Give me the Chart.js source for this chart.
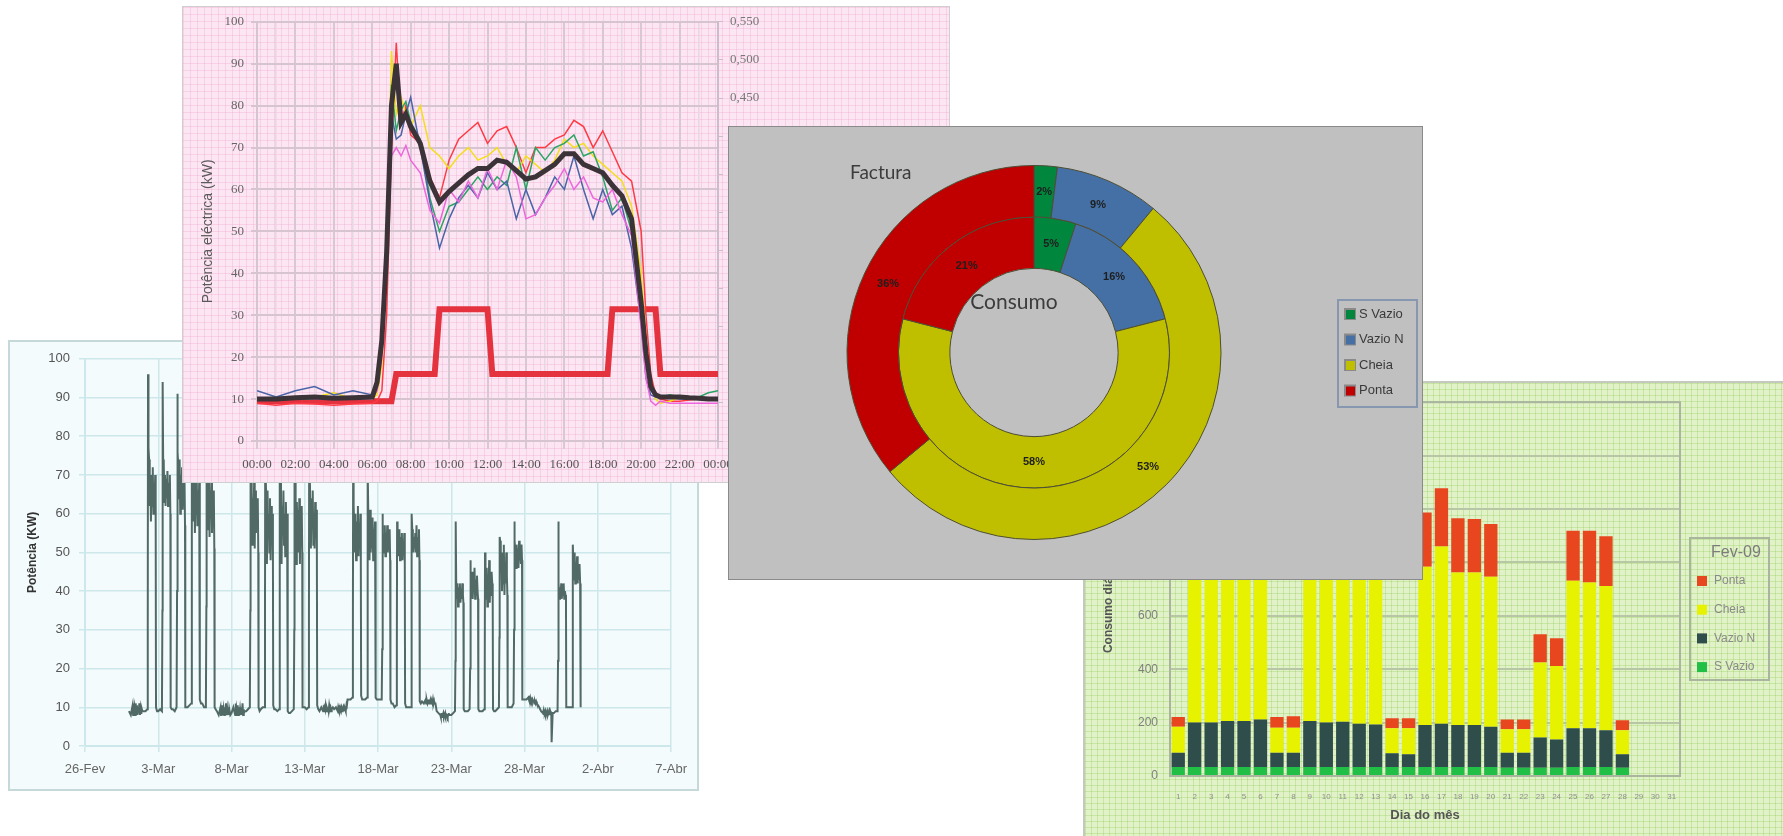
<!DOCTYPE html>
<html>
<head>
<meta charset="utf-8">
<title>Consumos eléctricos</title>
<script src="https://cdn.jsdelivr.net/npm/chart.js@4.4.1/dist/chart.umd.min.js"></script>
<style>
  html, body { margin: 0; padding: 0; background: #fff; }
  body { position: relative; width: 1783px; height: 836px; overflow: hidden; }
  .panel { position: absolute; box-sizing: border-box; }
  .panel canvas { display: block; }
  #monthPanel { left: 8px; top: 340px; width: 691px; height: 451px; border: 2px solid #c6d9da; background: #f4fbfc; z-index: 1; }
  #dayPanel { left: 182px; top: 6px; width: 768px; height: 477px; border: 1px solid #cfcfcf; z-index: 2;
    background-color: #fde6f3;
    background-image: linear-gradient(to right, rgba(236,168,208,.35) 1px, transparent 1px),
                      linear-gradient(to bottom, rgba(236,168,208,.35) 1px, transparent 1px);
    background-size: 7px 7px; }
  #billPanel { left: 1083px; top: 381px; width: 702px; height: 457px; border: 2px solid #c4c8c0; z-index: 3;
    background-color: #e2f2c8;
    background-image: linear-gradient(to right, rgba(150,205,95,.35) 1px, transparent 1px),
                      linear-gradient(to bottom, rgba(150,205,95,.35) 1px, transparent 1px);
    background-size: 6px 6px; }
  #sharePanel { left: 728px; top: 126px; width: 695px; height: 454px; border: 1px solid #8a8a8a; background: #c0c0c0; z-index: 4; }
</style>
</head>
<body>
<div class="panel" id="monthPanel"><canvas id="monthChart" width="687" height="447"></canvas></div>
<div class="panel" id="dayPanel"><canvas id="dayChart" width="766" height="475"></canvas></div>
<div class="panel" id="billPanel"><canvas id="billChart" width="698" height="453"></canvas></div>
<div class="panel" id="sharePanel"><canvas id="shareChart" width="693" height="452"></canvas></div>

<script>
// ---- March load (kW), one row per day, sampled at sampleHours ----
const dateTicks = ['26-Fev', '3-Mar', '8-Mar', '13-Mar', '18-Mar', '23-Mar', '28-Mar', '2-Abr', '7-Abr'];
const sampleHours = [0, 3, 6, 6.8, 7.2, 8, 9, 10, 11, 12, 13, 14, 15, 16, 17, 18, 19, 19.8, 20.3, 22];
const firstDay = 3; // 1-Mar, counted in days from 26-Fev
const marchKw = [
  [9, 8, 10.5, 8, 11, 8.5, 10, 8, 11, 8.5, 10.5, 8, 10, 8.5, 11, 8, 10, 8.5, 10, 9],
  [9, 9, 9.5, 30, 96, 77, 74, 62, 70, 58, 68, 62, 72, 60, 66, 63, 70, 58, 10, 9],
  [9, 9.5, 9, 35, 94, 74, 73, 63, 70, 62, 69, 64, 71, 62, 68, 65, 70, 60, 10, 9.5],
  [9.5, 9, 10, 40, 91, 76, 72, 64, 74, 60, 70, 62, 72, 61, 67, 63, 69, 57, 10, 10],
  [10, 10.5, 11, 38, 90, 80, 70, 58, 72, 55, 68, 60, 70, 57, 66, 60, 68, 53, 12, 11],
  [11, 10, 10, 36, 88, 78, 72, 56, 70, 54, 66, 60, 69, 55, 64, 58, 66, 51, 10, 9.5],
  [9, 8, 10, 8, 9.5, 8, 10.5, 8, 9.5, 8, 10, 8, 11, 8, 9.5, 8, 10, 8, 9.5, 8],
  [8.5, 10, 8, 11, 8, 9.5, 8, 10.5, 8, 10, 8, 9.5, 8, 10, 8, 11, 8, 9.5, 8.5, 9],
  [9, 9.5, 10, 35, 86, 72, 66, 52, 64, 58, 68, 51, 66, 55, 62, 57, 64, 50, 10, 9],
  [9.5, 10, 10, 30, 84, 70, 62, 47, 66, 55, 60, 50, 64, 48, 62, 56, 60, 49, 10.5, 9.5],
  [9.5, 9, 9.5, 32, 85, 70, 64, 47, 62, 57, 66, 52, 60, 49, 63, 55, 60, 48, 9, 8.5],
  [8.5, 9, 9.5, 30, 82, 68, 60, 47, 63, 55, 61, 50, 64, 47, 59, 55, 62, 50, 10, 10],
  [10, 9.5, 10, 33, 84, 72, 62, 51, 64, 59, 66, 52, 60, 51, 63, 58, 61, 50, 10.5, 9.5],
  [9, 10, 9, 10.5, 9, 10, 9.5, 10.5, 9, 10, 9.5, 10, 9, 10.5, 9.5, 10, 9, 10, 9.5, 10],
  [9.5, 10, 9, 10, 9.5, 10.5, 9, 10, 9.5, 10, 9, 9.5, 10, 9, 10, 9.5, 9, 10, 9.5, 12],
  [12, 12, 12.5, 30, 75, 62, 57, 50, 60, 48, 58, 52, 62, 49, 57, 53, 60, 47, 13, 12],
  [12, 12, 12.5, 28, 72, 60, 56, 48, 61, 50, 57, 51, 59, 48, 56, 52, 58, 46, 12.5, 12],
  [12, 12, 12, 25, 60, 55, 52, 50, 57, 49, 55, 51, 57, 50, 54, 51, 56, 48, 12, 11],
  [11, 10, 10.5, 26, 58, 54, 51, 49, 56, 48, 54, 50, 55, 48, 53, 50, 55, 47, 11, 10],
  [10, 10, 10, 27, 60, 56, 53, 50, 54, 51, 55, 50, 57, 49, 54, 52, 56, 48, 11.5, 11],
  [11.5, 11, 12, 11, 11.5, 12, 11, 11.5, 12, 11, 11.5, 12, 11, 11.5, 11, 12, 11, 11.5, 11, 11],
  [9, 8.5, 8, 7.5, 8, 8.5, 7.5, 8, 8.5, 7.5, 8, 8.5, 7.5, 8, 8, 7.5, 8, 8.5, 8, 8],
  [8, 8.5, 9, 22, 58, 42, 38, 42, 36, 41, 38, 42, 37, 40, 38, 42, 39, 37, 9.5, 9],
  [9, 9, 9.5, 20, 48, 42, 39, 45, 38, 42, 40, 46, 38, 43, 39, 44, 40, 38, 9.5, 9],
  [9, 9, 9.5, 22, 50, 44, 38, 46, 36, 44, 40, 48, 37, 44, 39, 45, 42, 38, 9.5, 9],
  [9, 9.5, 10, 28, 54, 53, 45, 50, 40, 48, 42, 52, 39, 47, 42, 50, 44, 39, 10, 10],
  [10, 10, 11, 30, 58, 53, 50, 46, 52, 47, 51, 46, 53, 48, 50, 47, 52, 48, 12, 12],
  [12, 12, 12.5, 12, 13, 12, 12.5, 11.5, 12, 11.5, 12, 11.5, 12, 11, 11.5, 11, 11.5, 11, 11, 10.5],
  [10, 9, 8.5, 9, 8, 9, 8.5, 9, 8, 8.5, 9, 8, 8.5, 9, 8, 9, 8.5, 8, 1, 8.5],
  [8.5, 9, 9, 22, 58, 42, 38, 41, 39, 42, 38, 41, 39, 42, 38, 40, 39, 38, 10, 10],
  [10, 10, 10, 24, 52, 47, 43, 50, 42, 47, 44, 49, 42, 46, 43, 47, 42, 10]
];

// ---- typical day (kW) and tariff (EUR/kWh) ----
const hourGrid = [0, 1, 2, 3, 4, 5, 6, 6.25, 6.5, 6.75, 7, 7.25, 7.5, 7.75, 8, 8.5, 9, 9.5, 10, 10.5, 11, 11.5, 12, 12.5,
  13, 13.5, 14, 14.5, 15, 15.5, 16, 16.5, 17, 17.5, 18, 18.5, 19, 19.5, 20, 20.25, 20.5, 20.75, 21, 21.5, 22, 22.5, 23, 23.5, 24];
const avgKw = [10, 10, 10.3, 10.5, 10.2, 10.3, 10.5, 14, 24, 45, 80, 90, 76, 78, 75,
  71, 62, 57, 59.5, 61.5, 63.5, 65, 65, 67, 66.5, 64.5, 62.5, 63, 64.5, 66, 68.5, 68.5, 66, 65, 64, 61, 58.5, 53, 33,
  21, 13, 11, 10.5, 10.5, 10.5, 10.3, 10.2, 10, 10];
const redKw = [9, 8.5, 9, 8.8, 8.5, 8.8, 9, 9.5, 12, 30, 70, 95, 76, 80, 73,
  71, 63, 58, 67, 72, 74, 76, 71, 74, 75, 70, 64, 70, 70, 72, 73, 76.5, 75, 70, 74, 69, 64, 62, 50,
  30, 16, 11, 10, 9.5, 9.5, 9.8, 10, 10, 10];
const yellowKw = [10, 10, 10, 10.5, 11.5, 10, 10, 11, 18, 45, 93, 78, 82, 78, 75,
  80, 70, 68, 65, 68, 70, 67, 68, 70, 66, 64, 68, 66, 64, 67, 72, 70, 71, 68, 66, 64, 62, 56, 40,
  25, 13, 10, 9, 9.5, 10.5, 10.5, 10, 10.3, 10];
const greenKw = [10, 10.5, 10, 10, 10, 10.5, 10.5, 13, 25, 50, 85, 74, 79, 81, 76,
  72, 58, 50, 56, 57, 60, 63, 60, 63, 61, 70, 60, 70, 67, 70, 71, 73, 68, 69, 63, 55, 58, 50, 35,
  24, 12, 11, 10.5, 11, 10.5, 10.5, 10.5, 11.5, 12];
const blueKw = [12, 10.5, 12, 13, 11, 12, 11, 13, 22, 40, 78, 72, 73, 78, 82,
  70, 57, 46, 53, 58, 61, 58, 64, 60, 62, 53, 60, 54, 58, 63, 60, 68, 60, 53, 60, 54, 56, 46, 28,
  15, 11, 10.5, 10.5, 10.5, 10, 10, 10, 10, 10];
const magentaKw = [10, 10, 10.5, 10, 10, 10, 10, 12, 20, 42, 68, 70, 68, 70.5, 67,
  64, 55, 52, 60, 57, 62, 58, 65, 60, 67, 63, 53, 54, 58, 61, 65, 60, 63, 58, 57, 60, 54, 49, 27,
  15, 9.5, 8.5, 9.5, 9, 9, 9, 9, 9, 9];
const tariffHours = [0, 7, 7.25, 9.25, 9.5, 12, 12.25, 18.25, 18.5, 20.75, 21, 24];
const tariffEur = [0.052, 0.052, 0.088, 0.088, 0.173, 0.173, 0.088, 0.088, 0.173, 0.173, 0.088, 0.088];

// ---- share per tariff period (%) ----
const tariffPeriods = ['S Vazio', 'Vazio N', 'Cheia', 'Ponta'];
const periodColors = ['#00873d', '#4470a6', '#bfbf00', '#c00000'];
const billShare = [2, 9, 53, 36];
const useShare = [5, 16, 58, 21];

// ---- February daily consumption (kWh) ----
const monthLabel = 'Fev-09';
const dayLabels = ['1', '2', '3', '4', '5', '6', '7', '8', '9', '10', '11', '12', '13', '14', '15', '16',
  '17', '18', '19', '20', '21', '22', '23', '24', '25', '26', '27', '28', '29', '30', '31'];
const sVazioKwh = [34, 34, 34, 34, 34, 34, 34, 34, 34, 34, 34, 34, 34, 34, 34, 34, 34, 34, 34, 34, 31, 31, 31, 31, 34, 34, 34, 31, null, null, null];
const vazioNKwh = [53, 166, 166, 172, 172, 178, 53, 53, 172, 166, 169, 162, 159, 51, 47, 157, 162, 157, 157, 150, 56, 56, 113, 106, 145, 145, 137, 50, null, null, null];
const cheiaKwh = [97, 560, 560, 550, 560, 550, 94, 94, 560, 570, 560, 570, 565, 94, 98, 593, 664, 571, 571, 562, 88, 88, 281, 275, 552, 546, 541, 90, null, null, null];
const pontaKwh = [37, 200, 200, 200, 195, 200, 40, 43, 200, 195, 200, 200, 205, 37, 37, 203, 218, 203, 201, 198, 37, 37, 106, 104, 188, 194, 186, 38, null, null, null];
const barColors = ['#22bf46', '#2f4d4a', '#e6f200', '#e8461e'];

Chart.defaults.font.family = '"Liberation Sans", Arial, sans-serif';

// March load curve
const marchPoints = [];
marchKw.forEach((day, i) => day.forEach((kw, j) => {
  marchPoints.push({ x: firstDay + i + sampleHours[j] / 24, y: kw });
}));

new Chart(document.getElementById('monthChart'), {
  type: 'line',
  data: { datasets: [{ data: marchPoints, borderColor: '#526a66', borderWidth: 2, pointRadius: 0, tension: 0 }] },
  options: {
    responsive: false, animation: false,
    layout: { padding: { left: 0, right: 25, top: 11, bottom: 0 } },
    plugins: { legend: { display: false }, tooltip: { enabled: false } },
    scales: {
      x: {
        type: 'linear', min: 0, max: 40,
        ticks: { stepSize: 5, autoSkip: false, maxRotation: 0, color: '#666', font: { size: 13 }, padding: 10,
                 callback: v => dateTicks[v / 5] ?? '' },
        grid: { color: '#cde8ea', lineWidth: 1.5, tickLength: 6 },
        border: { color: '#cde8ea' },
        afterFit: s => { s.height = 43; }
      },
      y: {
        min: 0, max: 100,
        ticks: { stepSize: 10, color: '#555', font: { size: 13 }, padding: 9 },
        grid: { color: '#cde8ea', lineWidth: 1.5, tickLength: 6 },
        border: { color: '#cde8ea' },
        title: { display: true, text: 'Potência (KW)', color: '#333', font: { size: 12, weight: 'bold' }, padding: { top: 15, bottom: 0 } },
        afterFit: s => { s.width = 75; }
      }
    }
  }
});

// typical day with tariff steps
const daySeries = (values, color, width) => ({
  data: hourGrid.map((h, i) => ({ x: h, y: values[i] })),
  borderColor: color, borderWidth: width, pointRadius: 0, tension: 0, yAxisID: 'y'
});
const serifTicks = { family: '"Liberation Serif", "Times New Roman", serif', size: 13 };

new Chart(document.getElementById('dayChart'), {
  type: 'line',
  data: {
    datasets: [
      daySeries(avgKw, '#3b3338', 5),
      daySeries(magentaKw, '#ee66dd', 1.5),
      daySeries(blueKw, '#4a64a8', 1.5),
      daySeries(greenKw, '#2aa464', 1.5),
      daySeries(yellowKw, '#f2de1a', 1.5),
      daySeries(redKw, '#ff3a44', 1.5),
      { data: tariffHours.map((h, i) => ({ x: h, y: tariffEur[i] })), borderColor: '#e4323e', borderWidth: 6,
        pointRadius: 0, tension: 0, yAxisID: 'y1' }
    ]
  },
  options: {
    responsive: false, animation: false,
    layout: { padding: { left: 0, right: 176, top: 13.5, bottom: 0 } },
    plugins: { legend: { display: false }, tooltip: { enabled: false } },
    scales: {
      x: {
        type: 'linear', min: 0, max: 24,
        ticks: { stepSize: 1, autoSkip: false, maxRotation: 0, color: '#555', font: serifTicks, padding: 8,
                 callback: v => v % 2 ? '' : String(v % 24).padStart(2, '0') + ':00' },
        grid: { color: c => (c.tick && c.tick.value % 2 === 0) ? '#d9c7d5' : '#e8d6e3',
                lineWidth: c => (c.tick && c.tick.value % 2 === 0) ? 2 : 1.5, tickLength: 8 },
        border: { color: '#d6c4d1', width: 2 },
        afterFit: s => { s.height = 41; }
      },
      y: {
        min: 0, max: 100,
        ticks: { stepSize: 10, color: '#666', font: serifTicks, padding: 7 },
        grid: { color: '#d6c4d1', lineWidth: 2, tickLength: 6 },
        border: { color: '#d6c4d1', width: 2 },
        title: { display: true, text: 'Potência eléctrica (kW)', color: '#5a5a5a', font: { size: 14 }, padding: { top: 17, bottom: 0 } },
        afterFit: s => { s.width = 74; }
      },
      y1: {
        position: 'right', min: 0, max: 0.55,
        ticks: { stepSize: 0.05, color: '#777', font: serifTicks, padding: 7,
                 callback: v => v.toFixed(3).replace('.', ',') },
        grid: { drawOnChartArea: false, color: '#cdbcc9', tickLength: 5 },
        border: { color: '#cdbcc9', width: 2 },
        afterFit: s => { s.width = 55; }
      }
    }
  }
});

// February stacked bars
const plotFrame = {
  id: 'plotFrame',
  beforeDatasetsDraw(chart) {
    const { ctx, chartArea: a } = chart;
    ctx.save();
    ctx.strokeStyle = '#a9b69d';
    ctx.lineWidth = 2;
    ctx.strokeRect(a.left, a.top, a.right - a.left, a.bottom - a.top);
    ctx.restore();
  }
};
const monthLegend = {
  id: 'monthLegend',
  afterDraw(chart) {
    const ctx = chart.ctx;
    ctx.save();
    ctx.strokeStyle = '#a9b69d';
    ctx.lineWidth = 2;
    ctx.strokeRect(605, 155, 79, 142);
    ctx.textBaseline = 'middle';
    ctx.textAlign = 'left';
    ctx.fillStyle = '#7c7c7c';
    ctx.font = '16px "Liberation Sans"';
    ctx.fillText(monthLabel, 626, 170);
    ctx.font = '12px "Liberation Sans"';
    const sets = chart.data.datasets.slice().reverse();
    sets.forEach((ds, k) => {
      const y = 198 + k * 28.7;
      ctx.fillStyle = ds.backgroundColor;
      ctx.fillRect(612, y - 5, 10, 10);
      ctx.fillStyle = '#8a8a8a';
      ctx.fillText(ds.label, 629, y);
    });
    ctx.restore();
  }
};

new Chart(document.getElementById('billChart'), {
  type: 'bar',
  data: {
    labels: dayLabels,
    datasets: [
      { label: 'S Vazio', data: sVazioKwh, backgroundColor: barColors[0] },
      { label: 'Vazio N', data: vazioNKwh, backgroundColor: barColors[1] },
      { label: 'Cheia', data: cheiaKwh, backgroundColor: barColors[2] },
      { label: 'Ponta', data: pontaKwh, backgroundColor: barColors[3] }
    ]
  },
  options: {
    responsive: false, animation: false,
    layout: { padding: { left: 0, right: 103, top: 15, bottom: 0 } },
    datasets: { bar: { barPercentage: 0.81, categoryPercentage: 1 } },
    plugins: { legend: { display: false }, tooltip: { enabled: false } },
    scales: {
      x: {
        stacked: true,
        ticks: { autoSkip: false, maxRotation: 0, color: '#8f8f8f', font: { size: 8 }, padding: 8 },
        grid: { display: false },
        border: { display: false },
        title: { display: true, text: 'Dia do mês', color: '#555', font: { size: 13, weight: 'bold' }, padding: { top: 0, bottom: 13 } },
        afterFit: s => { s.height = 60; }
      },
      y: {
        stacked: true, min: 0, max: 1400,
        ticks: { stepSize: 200, color: '#808080', font: { size: 12 }, padding: 12 },
        grid: { color: '#b7c7a6', lineWidth: 2, drawTicks: false },
        border: { display: false },
        title: { display: true, text: 'Consumo diário (kWh)', color: '#555', font: { size: 12, weight: 'bold' }, padding: { top: 16, bottom: 0 } },
        afterFit: s => { s.width = 85; }
      }
    }
  },
  plugins: [plotFrame, monthLegend]
});

// share rings: outer = bill, inner = consumption
const ringText = {
  id: 'ringText',
  afterDraw(chart) {
    const ctx = chart.ctx;
    const centre = chart.getDatasetMeta(0).data[0];
    ctx.save();
    ctx.textBaseline = 'middle';
    ctx.textAlign = 'center';
    ctx.fillStyle = '#1e1e1e';
    ctx.font = 'bold 11px "Liberation Sans"';
    chart.data.datasets.forEach((ds, i) => {
      chart.getDatasetMeta(i).data.forEach((arc, j) => {
        const p = arc.tooltipPosition();
        ctx.fillText(ds.data[j] + '%', p.x, p.y);
      });
    });
    ctx.fillStyle = '#3c3c3c';
    ctx.textAlign = 'left';
    ctx.font = '19px Lato';
    ctx.fillText(chart.data.datasets[0].label, centre.x - 184, centre.y - 180);
    ctx.textAlign = 'center';
    ctx.font = '21px Lato';
    ctx.fillText(chart.data.datasets[1].label, centre.x - 20, centre.y - 50);

    // legend box
    ctx.strokeStyle = '#8797b0';
    ctx.lineWidth = 2;
    ctx.strokeRect(609, 173, 79, 107);
    ctx.textAlign = 'left';
    ctx.font = '13px "Liberation Sans"';
    chart.data.labels.forEach((name, k) => {
      const y = 187 + k * 25.5;
      ctx.fillStyle = '#8a8a8a';
      ctx.fillRect(615, y - 6, 12, 12);
      ctx.fillStyle = periodColors[k];
      ctx.fillRect(617, y - 4, 9, 9);
      ctx.fillStyle = '#3a3a3a';
      ctx.fillText(name, 630, y);
    });
    ctx.restore();
  }
};

new Chart(document.getElementById('shareChart'), {
  type: 'doughnut',
  data: {
    labels: tariffPeriods,
    datasets: [
      { label: 'Factura', data: billShare, backgroundColor: periodColors, borderColor: '#4d4d35', borderWidth: 1, hoverOffset: 0 },
      { label: 'Consumo', data: useShare, backgroundColor: periodColors, borderColor: '#4d4d35', borderWidth: 1, hoverOffset: 0 }
    ]
  },
  options: {
    responsive: false, animation: false,
    radius: 187, cutout: 92,
    layout: { padding: { left: 100, right: 183, top: 15, bottom: 16 } },
    plugins: { legend: { display: false }, tooltip: { enabled: false } }
  },
  plugins: [ringText]
});
</script>
</body>
</html>
